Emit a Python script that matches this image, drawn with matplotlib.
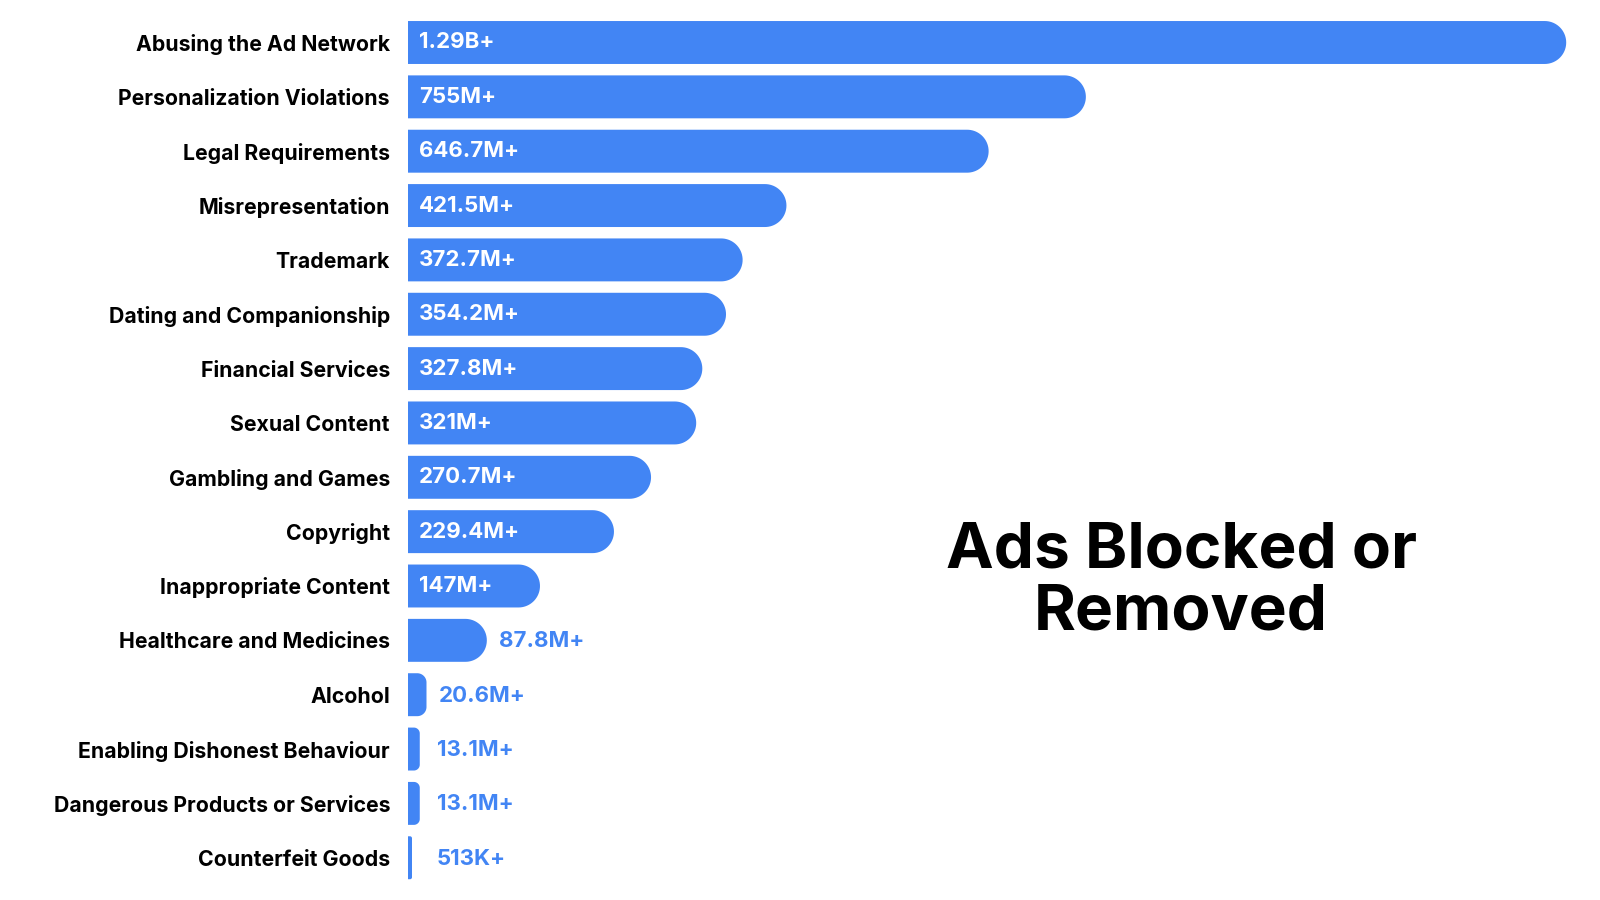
import numpy as np
import matplotlib
matplotlib.use('Agg')
import matplotlib.pyplot as plt
from matplotlib.patches import Polygon

plt.rcParams['font.family'] = ['Inter', 'DejaVu Sans']

categories = ['Abusing the Ad Network', 'Personalization Violations', 'Legal Requirements',
              'Misrepresentation', 'Trademark', 'Dating and Companionship', 'Financial Services',
              'Sexual Content', 'Gambling and Games', 'Copyright', 'Inappropriate Content',
              'Healthcare and Medicines', 'Alcohol', 'Enabling Dishonest Behaviour',
              'Dangerous Products or Services', 'Counterfeit Goods']
values_m = [1290, 755, 646.7, 421.5, 372.7, 354.2, 327.8, 321, 270.7, 229.4, 147,
            87.8, 20.6, 13.1, 13.1, 0.513]
value_labels = ['1.29B+', '755M+', '646.7M+', '421.5M+', '372.7M+', '354.2M+', '327.8M+',
                '321M+', '270.7M+', '229.4M+', '147M+', '87.8M+', '20.6M+', '13.1M+',
                '13.1M+', '513K+']

blue = '#4285F4'
W, H, DPI = 1600, 900, 100
fig = plt.figure(figsize=(W / DPI, H / DPI), dpi=DPI)

# axes placed so bars start at x=408px and rows sit at 42..857px from the top
ax_left, ax_right = 408, 1568
ax = fig.add_axes([ax_left / W, 0, (ax_right - ax_left) / W, 1])
xmax = 1292
row0, step = 42.5, 54.35
ax.set_xlim(0, xmax)
ax.set_ylim(15 + (H - (row0 + 15 * step)) / step, -row0 / step)
ax.axis('off')

px_per_x = (ax_right - ax_left) / xmax
px_per_y = step
bar_h = 0.79
min_px = 4


def rounded_bar(y, w):
    w_px = max(w * px_per_x, min_px)
    h_px = bar_h * px_per_y
    r_px = min(h_px / 2, w_px / 2)
    rx = r_px / px_per_x
    ry = r_px / px_per_y
    wd = w_px / px_per_x
    top, bot = y - bar_h / 2, y + bar_h / 2
    t = np.linspace(0, np.pi / 2, 20)
    pts = [(0, top)]
    # top-right corner
    cx, cy = wd - rx, top + ry
    pts += [(cx + rx * np.sin(a), cy - ry * np.cos(a)) for a in t]
    # bottom-right corner
    cx, cy = wd - rx, bot - ry
    pts += [(cx + rx * np.cos(a), cy + ry * np.sin(a)) for a in t]
    pts.append((0, bot))
    ax.add_patch(Polygon(pts, closed=True, facecolor=blue, edgecolor='none'))
    return w_px


for i, (cat, v, lab) in enumerate(zip(categories, values_m, value_labels)):
    w_px = rounded_bar(i, v)
    ax.annotate(cat, xy=(0, i), xytext=(-18, -2), textcoords='offset pixels',
                ha='right', va='center', fontsize=15.3, fontweight='bold', color='black',
                annotation_clip=False)
    if v >= 140:
        ax.annotate(lab, xy=(0, i), xytext=(11, 0), textcoords='offset pixels',
                    ha='left', va='center', fontsize=16, fontweight='bold', color='white')
    else:
        ax.annotate(lab, xy=(0, i), xytext=(max(w_px + 12, 29), -1), textcoords='offset pixels',
                    ha='left', va='center', fontsize=16, fontweight='bold', color=blue)

fig.text(1181 / W, 1 - 582 / H, 'Ads Blocked or\nRemoved', ha='center', va='center',
         fontsize=46, fontweight='bold', color='black', linespacing=1.08)

fig.savefig('out.png', dpi=DPI, facecolor='white')
